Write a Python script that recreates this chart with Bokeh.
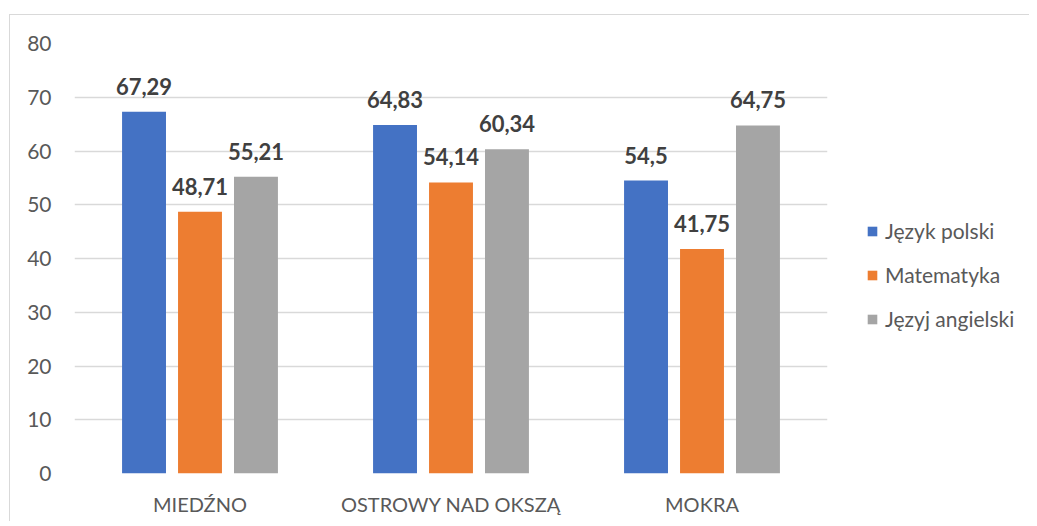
from bokeh.plotting import figure
from bokeh.layouts import row
from bokeh.models import ColumnDataSource, Legend, LegendItem, LabelSet, FactorRange, Range1d
from bokeh.core.properties import value
from bokeh.transform import dodge
from bokeh.embed import file_html
from bokeh.resources import INLINE

categories = ["MIEDŹNO", "OSTROWY NAD OKSZĄ", "MOKRA"]
series_names = ["Język polski", "Matematyka", "Języj angielski"]
polski = [67.29, 64.83, 54.5]
matematyka = [48.71, 54.14, 41.75]
angielski = [55.21, 60.34, 64.75]
y_ticks = [0, 10, 20, 30, 40, 50, 60, 70, 80]
colors = ["#4472C4", "#ED7D31", "#A5A5A5"]

FONT = "Lato"

def fmt(v):
    s = ("%.2f" % v).rstrip("0").rstrip(".")
    return s.replace(".", ",")

src = ColumnDataSource(dict(
    cat=categories,
    polski=polski, matematyka=matematyka, angielski=angielski,
    l_polski=[fmt(v) for v in polski],
    l_matematyka=[fmt(v) for v in matematyka],
    l_angielski=[fmt(v) for v in angielski],
))

p = figure(x_range=FactorRange(*categories, range_padding=0), y_range=(0, 80),
           width=825, height=506, output_backend="svg", toolbar_location=None,
           min_border_left=64, min_border_right=8, min_border_top=28, min_border_bottom=48)
p.outline_line_color = None
p.background_fill_color = "white"

keys = ["polski", "matematyka", "angielski"]
offsets = [-0.223, 0.0, 0.223]
for k, off, c in zip(keys, offsets, colors):
    p.vbar(x=dodge("cat", off, range=p.x_range), top=k, width=0.175, source=src,
           fill_color=c, line_color=None)
    lab = LabelSet(x=dodge("cat", off, range=p.x_range), y=k, text="l_" + k, source=src,
                   text_align="center", text_baseline="alphabetic", y_offset=17,
                   text_font=value(FONT), text_font_size=value("22px"), text_font_style="bold",
                   text_color="#404040")
    p.add_layout(lab)

p.yaxis.ticker = y_ticks
p.yaxis.axis_line_color = None
p.yaxis.major_tick_line_color = None
p.yaxis.minor_tick_line_color = None
p.yaxis.major_label_text_font = FONT
p.yaxis.major_label_text_font_size = "21px"
p.yaxis.major_label_text_color = "#595959"
p.yaxis.major_label_standoff = 17

p.xaxis.axis_line_color = None
p.xaxis.major_tick_line_color = None
p.xaxis.major_label_text_font = FONT
p.xaxis.major_label_text_font_size = "20px"
p.xaxis.major_label_text_color = "#595959"
p.xaxis.major_label_standoff = 12

p.xgrid.grid_line_color = None
p.ygrid.grid_line_color = "#d9d9d9"
p.ygrid.grid_line_width = 1.5

# legend panel
p2 = figure(x_range=Range1d(0, 1), y_range=Range1d(0, 1), width=194, height=506,
            output_backend="svg", toolbar_location=None, min_border=0)
p2.axis.visible = False
p2.grid.visible = False
p2.outline_line_color = None
dummy = []
for c in colors:
    dummy.append(p2.vbar(x=[5], top=[-5], width=0.1, fill_color=c, line_color=None))
legend = Legend(items=[LegendItem(label=n, renderers=[r]) for n, r in zip(series_names, dummy)],
                location=(31, 142), border_line_color=None, background_fill_alpha=0,
                label_text_font=FONT, label_text_font_size="21px", label_text_color="#595959",
                glyph_width=12, glyph_height=12, spacing=19, label_standoff=7, padding=0, margin=0)
p2.add_layout(legend, "center")

layout = row(p, p2, spacing=0)
layout.margin = (14, 0, 0, 9)
layout.styles = {"border-left": "1px solid #d9d9d9", "border-top": "1px solid #d9d9d9"}

open("out.html", "w").write(file_html(layout, INLINE))
